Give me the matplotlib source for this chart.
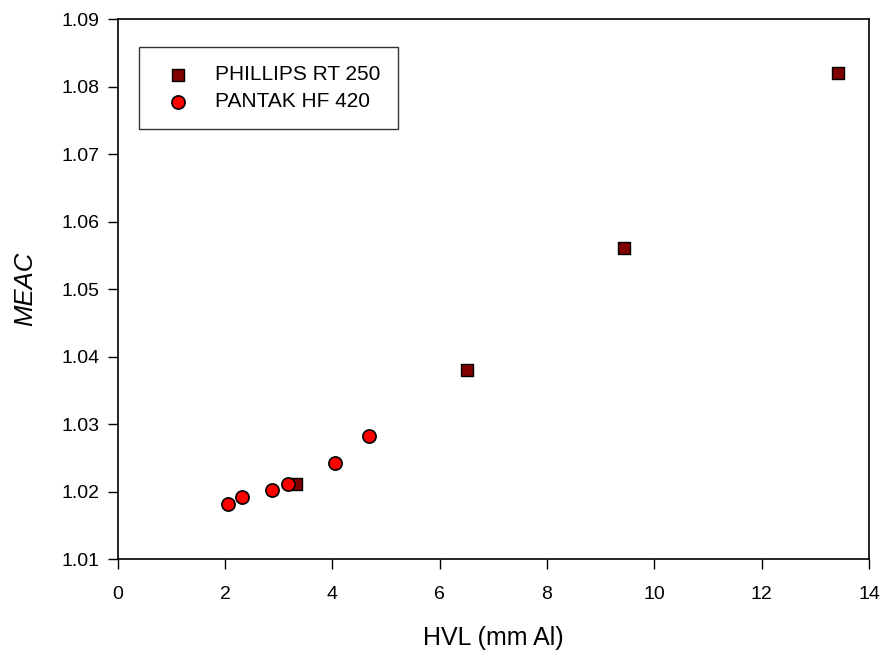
import matplotlib
matplotlib.use("Agg")
import matplotlib.pyplot as plt

plt.rcParams['font.family'] = ['Liberation Sans', 'DejaVu Sans']

# PHILLIPS RT 250
phillips_hvl = [3.32, 6.51, 9.44, 13.42]
phillips_meac = [1.0211, 1.0380, 1.0561, 1.0821]

# PANTAK HF 420
pantak_hvl = [2.05, 2.31, 2.88, 3.18, 4.05, 4.69]
pantak_meac = [1.0182, 1.0193, 1.0202, 1.0212, 1.0242, 1.0282]

fig = plt.figure(figsize=(8.88, 6.56), dpi=100)
ax = fig.add_axes([0.1325, 0.1474, 0.8461, 0.8232])

ax.scatter(phillips_hvl, phillips_meac, marker='s', s=85, c='#800000',
           edgecolors='black', linewidths=1.0, label='PHILLIPS RT 250', zorder=3)
ax.scatter(pantak_hvl, pantak_meac, marker='o', s=90, c='#ff0000',
           edgecolors='black', linewidths=1.2, label='PANTAK HF 420', zorder=4)

ax.set_xlim(0, 14)
ax.set_ylim(1.01, 1.09)
ax.set_xticks(range(0, 15, 2))
ax.set_yticks([1.01 + 0.01 * i for i in range(9)])
ax.set_yticklabels(['%.2f' % (1.01 + 0.01 * i) for i in range(9)])
ax.tick_params(direction='out', length=7, width=1, labelsize=14)
ax.tick_params(axis='x', pad=12)
ax.tick_params(axis='y', pad=6.3)
for sp in ax.spines.values():
    sp.set_linewidth(1.2)

ax.set_xlabel('HVL (mm Al)', fontsize=18)
ax.xaxis.set_label_coords(0.5, -0.123)
ax.set_ylabel('MEAC', fontsize=18.5, style='italic')
ax.yaxis.set_label_coords(-0.107, 0.5)

leg = ax.legend(loc='upper left', bbox_to_anchor=(0.0284, 0.948), fontsize=15,
                frameon=True, fancybox=False, edgecolor='black',
                borderpad=0.85, handletextpad=0.75, labelspacing=0.38,
                borderaxespad=0, handlelength=2.05)
leg.get_frame().set_linewidth(1.0)

fig.savefig('out.png', dpi=100)
